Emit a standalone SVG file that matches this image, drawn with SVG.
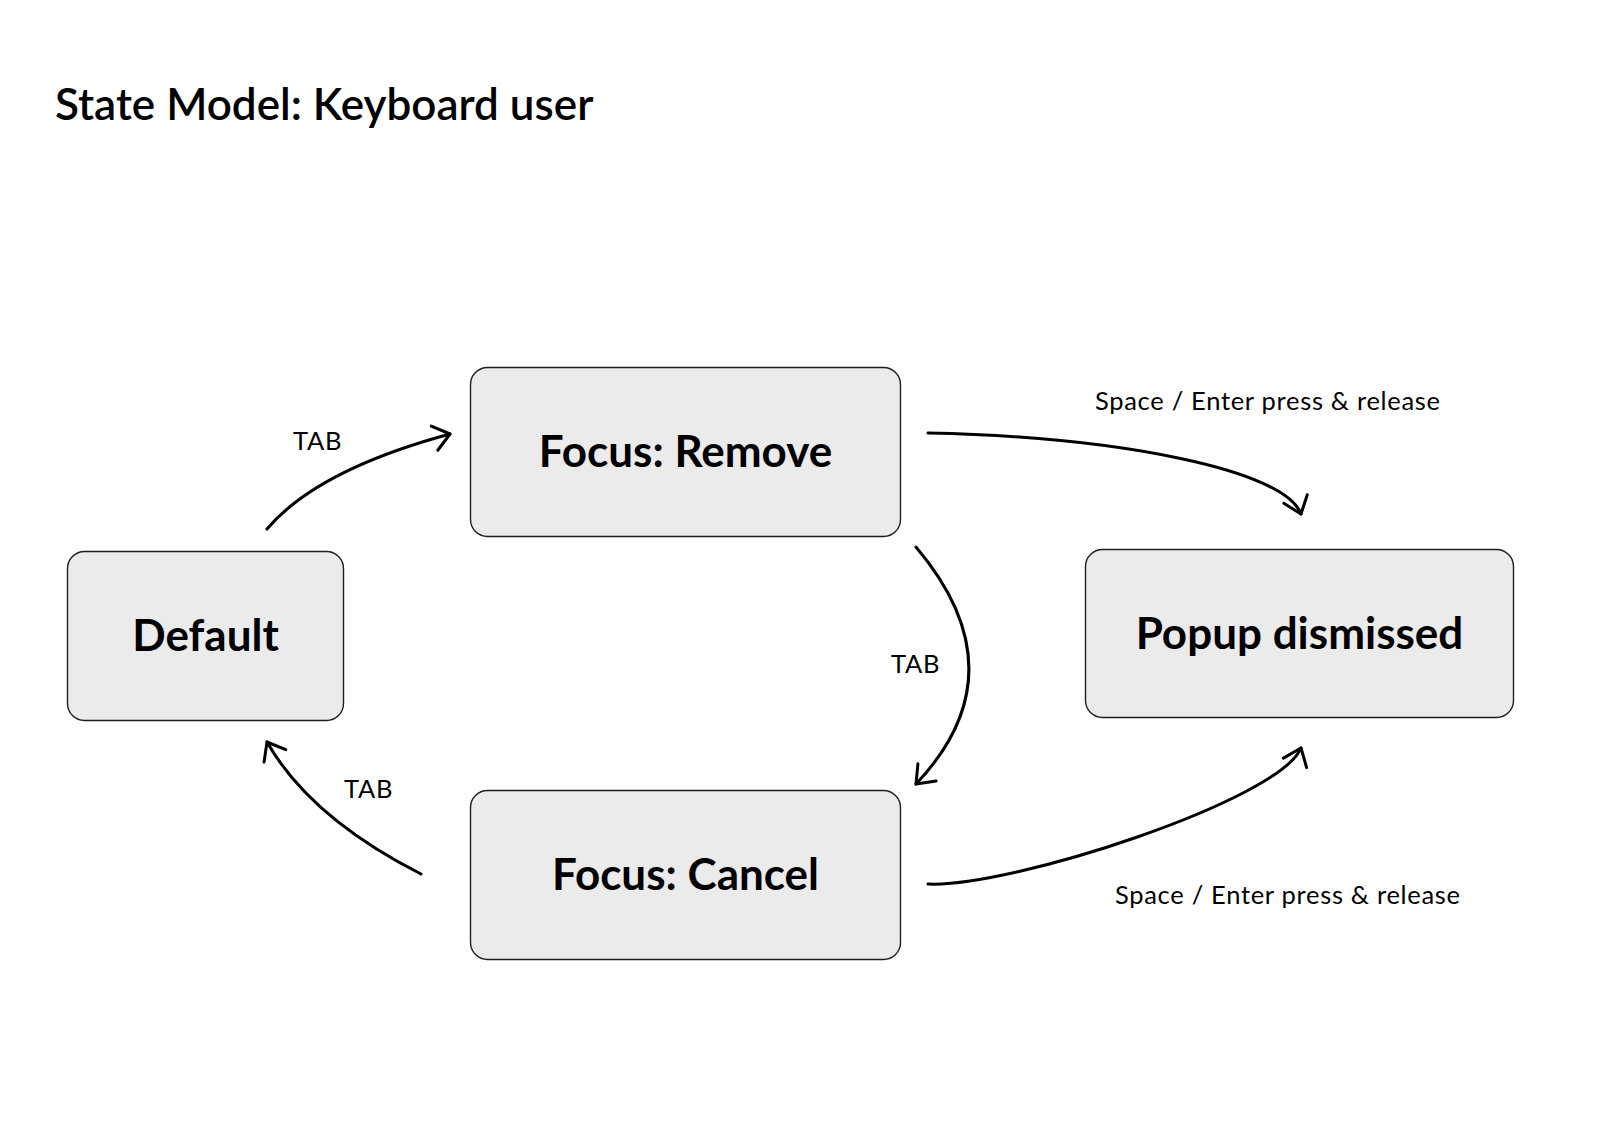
<svg xmlns="http://www.w3.org/2000/svg" width="1618" height="1136" viewBox="0 0 1618 1136">
<defs>
<style>
.node rect{fill:#ebebeb;stroke:#1e1e1e;stroke-width:1.4}
.node text{font-family:Lato,"Noto Sans",sans-serif;font-weight:700;font-size:44px;fill:#000;text-anchor:middle}
.title{font-family:Lato,"Noto Sans",sans-serif;font-weight:600;font-size:44px;fill:#000}
.lbl{font-family:Lato,"Noto Sans",sans-serif;font-weight:400;font-size:25.5px;letter-spacing:0.7px;fill:#000}
.conn path{fill:none;stroke:#000;stroke-width:3;stroke-linecap:round}
</style>
<marker id="arr" markerUnits="userSpaceOnUse" viewBox="-20 -16 24 32" refX="0" refY="0" markerWidth="24" markerHeight="32" orient="auto" overflow="visible">
<path d="M-16,-12.5 L0,0 L-16,12.5" fill="none" stroke="#000" stroke-width="3" stroke-linecap="round" stroke-linejoin="round"/>
</marker>
</defs>
<rect width="1618" height="1136" fill="#fff"/>
<text class="title" x="55" y="120">State Model: Keyboard user</text>

<g id="node-focus-remove" class="node">
<rect x="470.5" y="367.5" width="430" height="169" rx="17"/>
<text x="685.5" y="467">Focus: Remove</text>
</g>
<g id="node-default" class="node">
<rect x="67.5" y="551.5" width="276" height="169" rx="17"/>
<text x="205.5" y="651">Default</text>
</g>
<g id="node-popup-dismissed" class="node">
<rect x="1085.5" y="549.5" width="428" height="168" rx="17"/>
<text x="1299.5" y="649">Popup dismissed</text>
</g>
<g id="node-focus-cancel" class="node">
<rect x="470.5" y="790.5" width="430" height="169" rx="17"/>
<text x="685.5" y="890">Focus: Cancel</text>
</g>

<g id="connectors" class="conn">
<path d="M267,529 Q317,470 450,434" marker-end="url(#arr)"/>
<path d="M928,433 C1120,437 1285,470 1301,514" marker-end="url(#arr)"/>
<path d="M916,547 C965,605 1005,690 916,784" marker-end="url(#arr)"/>
<path d="M421,874 C360,843 300,800 267,742" marker-end="url(#arr)"/>
<path d="M928,884 C1010,888 1280,800 1301,748" marker-end="url(#arr)"/>
</g>

<g id="labels">
<text class="lbl" x="293" y="450">TAB</text>
<text class="lbl" x="1095" y="410">Space / Enter press &amp; release</text>
<text class="lbl" x="891" y="673">TAB</text>
<text class="lbl" x="344" y="798">TAB</text>
<text class="lbl" x="1115" y="904">Space / Enter press &amp; release</text>
</g>
</svg>
